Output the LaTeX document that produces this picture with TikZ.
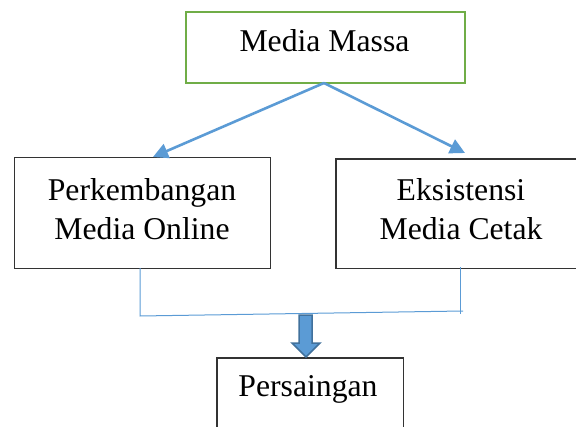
\documentclass[tikz,border=0pt]{standalone}
\usepackage{fontspec}
\setmainfont{Liberation Serif}
\usetikzlibrary{arrows.meta}
\definecolor{lblue}{HTML}{5B9BD5}
\definecolor{dblue}{HTML}{41719C}
\definecolor{lgreen}{HTML}{70AD47}
\begin{document}
\begin{tikzpicture}[x=1pt,y=-1pt,
  box/.style={draw=black!80,line width=1.2pt,inner sep=0pt,anchor=north west},
  edge/.style={draw=black!80,line width=1.2pt},
  lbl/.style={font=\fontsize{31.7}{39}\selectfont,align=center,inner sep=0pt},
  conn/.style={draw=lblue,line width=2.6pt,-{Triangle[length=15pt,width=15pt]}},
  brk/.style={draw=lblue,line width=1pt}]
\useasboundingbox (0,0) rectangle (577,427);
% boxes
\node[box,draw=lgreen,line width=2pt,minimum width=279pt,minimum height=71pt] (top) at (185,11) {};
\node[box,minimum width=256pt,minimum height=111pt] (left) at (14,157) {};
\node[box,draw=none,minimum width=239pt,minimum height=108pt] (right) at (336,159) {};
\draw[edge] (right.north east) -- (right.north west) -- (right.south west) -- (right.south east);
\node[box,draw=none,minimum width=185pt,minimum height=69pt] (bottom) at (217,358) {};
\draw[edge] (bottom.south west) -- (bottom.north west) -- (bottom.north east) -- (bottom.south east);
% texts
\node[lbl,anchor=base] (ttop) at (324.5,52) {Media Massa};
\node[lbl] (tleft) at (142,209) {Perkembangan\\Media Online};
\node[lbl] (tright) at (461,209) {Eksistensi\\Media Cetak};
\node[lbl,anchor=base] (tbottom) at (308,396) {Persaingan};
% connectors
\coordinate (src) at (324,83);
\coordinate (lt) at (153,157);
\coordinate (rt) at (465,153);
\draw[conn] (src) -- (lt);
\draw[conn] (src) -- (rt);
% bracket
\coordinate (bl1) at (140,268);
\coordinate (bl2) at (140,316);
\coordinate (br1) at (460,267);
\coordinate (br2) at (460,314);
\coordinate (bre) at (463,311);
\draw[brk] (bl1) -- (bl2) -- (bre);
\draw[brk] (br1) -- (br2);
% block arrow
\draw[fill=lblue,draw=dblue,line width=1.5pt,line join=miter]
  (299,315) -- (312,315) -- (312,343) -- (320,343) -- (306,357) -- (292,343) -- (299,343) -- cycle;
\end{tikzpicture}
\end{document}
